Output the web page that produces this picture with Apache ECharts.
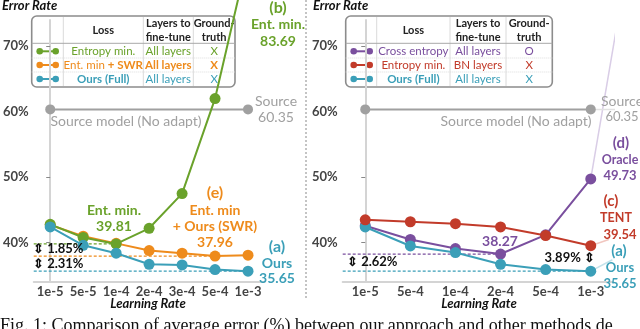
<!DOCTYPE html>
<html>
<head>
<meta charset="utf-8">
<script src="https://cdn.jsdelivr.net/npm/echarts@6/dist/echarts.min.js"></script>
<style>
  html, body { margin: 0; padding: 0; background: #fff; }
  #chart { width: 640px; height: 329px; }
</style>
</head>
<body>
<div id="chart"></div>
<script>
// learning rates (x categories)
const leftLr = ['1e-5', '5e-5', '1e-4', '2e-4', '3e-4', '5e-4', '1e-3'];
const rightLr = ['1e-5', '5e-4', '1e-4', '2e-4', '5e-4', '1e-3'];
// error rates (%)
const entMinLeft = [42.8, 40.8, 39.81, 42.2, 47.5, 62.0, 83.69];
const entMinSwr = [42.7, 41.0, 39.9, 38.8, 38.4, 37.96, 38.1];
const oursLeft = [42.4, 39.6, 38.4, 36.7, 36.6, 35.9, 35.65];
const oracle = [42.6, 40.5, 39.1, 38.27, 41.2, 49.73];
const tent = [43.5, 43.2, 42.9, 42.4, 41.1, 39.54];
const oursRight = [42.4, 39.5, 38.5, 36.7, 35.9, 35.65];
const sourceErr = 60.35;
const yTicks = [40, 50, 60, 70];
// faint leader lines on the right panel (x in category index units)
const purpleLead = [[5, 49.73], [5.7, 78]];
const redLead = [[5, 39.54], [5.4, 40.5]];
const blueLead = [[5, 35.65], [5.48, 37.4]];
const grayLead = [[5, sourceErr], [5.95, sourceErr]];

const GREEN = '#6aa22b', ORANGE = '#ee8b1c', BLUE = '#3b9fb8';
const PURPLE = '#7a4f9e', RED = '#c23b2a', GRAY = '#a0a0a0';
const FONT = 'Lato';

const chart = echarts.init(document.getElementById('chart'));

function yAxisOf(grid) {
  return {
    type: 'value', gridIndex: grid, min: 34, max: 74,
    axisLine: { show: true, lineStyle: { color: '#d4d4d4', width: 2 } },
    axisTick: { show: true, customValues: yTicks, length: 4, lineStyle: { color: '#888' } },
    axisLabel: { customValues: yTicks, formatter: '{value}%', color: '#444', fontSize: 13, fontWeight: 'bold', margin: 5, fontFamily: FONT },
    splitLine: { show: false }
  };
}
function catAxis(grid, data) {
  return {
    type: 'category', gridIndex: grid, data: data, boundaryGap: true,
    axisLine: { lineStyle: { color: '#d4d4d4', width: 2 } },
    axisTick: { alignWithLabel: true, length: 4, lineStyle: { color: '#999' } },
    axisLabel: { color: '#444', fontSize: 13, fontWeight: 'bold', margin: 3, fontFamily: FONT, interval: 0 }
  };
}
function idxAxis(grid, n) {
  return { type: 'value', gridIndex: grid, min: -0.5, max: n - 0.5, show: false };
}
function line(data, color, xi, yi, z) {
  return {
    type: 'line', data: data, xAxisIndex: xi, yAxisIndex: yi, z: z,
    symbol: 'circle', symbolSize: 11, clip: false, silent: true,
    lineStyle: { color: color, width: 2 }, itemStyle: { color: color }
  };
}
function plain(data, color, xi, yi, style) {
  return {
    type: 'line', data: data, xAxisIndex: xi, yAxisIndex: yi, z: 1,
    symbol: 'none', clip: false, silent: true,
    lineStyle: Object.assign({ color: color, width: 1.2 }, style || {})
  };
}
function dash(v, toIdx, color, xi, yi) {
  return plain([[-0.5, v], [toIdx, v]], color, xi, yi, { type: [3, 2], width: 1.2 });
}

function txt(x, y, text, color, size, weight, align) {
  return {
    type: 'text', x: x, y: y, z: 50, silent: true,
    style: {
      text: text, fill: color, align: align || 'center', verticalAlign: 'middle',
      font: (weight || 'bold') + ' ' + size + 'px ' + FONT
    }
  };
}

// legend table drawn as graphic
function table(cols, rows) {
  const x0 = cols[0], x1 = cols[4];
  const els = [];
  els.push({ type: 'rect', shape: { x: x0, y: 16, width: x1 - x0, height: 71, r: 5 },
    style: { fill: '#fff', stroke: '#8c8c8c', lineWidth: 1.6 } });
  [cols[1], cols[2], cols[3]].forEach(function (c) {
    els.push({ type: 'line', shape: { x1: c, y1: 17, x2: c, y2: 86 }, style: { stroke: '#dadada', lineWidth: 1 } });
  });
  els.push({ type: 'line', shape: { x1: x0, y1: 43.3, x2: x1, y2: 43.3 }, style: { stroke: '#a8a8a8', lineWidth: 1 } });
  [58, 72].forEach(function (y) {
    els.push({ type: 'line', shape: { x1: x0, y1: y, x2: x1, y2: y }, style: { stroke: '#dcdcdc', lineWidth: 1, lineDash: [1, 1] } });
  });
  const mid = function (i) { return (cols[i] + cols[i + 1]) / 2; };
  els.push(txt(mid(1), 30.5, 'Loss', '#222', 11, 'bold'));
  els.push({ type: 'text', x: mid(2), y: 30.5, style: { text: 'Layers to\nfine-tune', fill: '#222', align: 'center', verticalAlign: 'middle', lineHeight: 13.5, font: 'bold 11px ' + FONT } });
  els.push({ type: 'text', x: mid(3), y: 30.5, style: { text: 'Ground-\ntruth', fill: '#222', align: 'center', verticalAlign: 'middle', lineHeight: 13.5, font: 'bold 11px ' + FONT } });
  const rowY = [51.3, 65, 79];
  rows.forEach(function (r, k) {
    const y = rowY[k];
    els.push({ type: 'line', shape: { x1: cols[0] + 8, y1: y, x2: cols[0] + 24, y2: y }, style: { stroke: r.color, lineWidth: 2 } });
    els.push({ type: 'circle', shape: { cx: cols[0] + 8, cy: y, r: 3.3 }, style: { fill: r.color } });
    els.push({ type: 'circle', shape: { cx: cols[0] + 24, cy: y, r: 3.3 }, style: { fill: r.color } });
    els.push({ type: 'text', x: mid(1), y: y, style: { text: r.loss, fill: r.color, align: 'center', verticalAlign: 'middle', font: (r.w1 || 'normal') + ' 11.5px ' + FONT, rich: r.rich } });
    els.push(txt(mid(2), y, r.layers, r.color, 11.5, r.w2 || 'normal'));
    els.push(txt(mid(3), y, r.gt, r.color, 11.5, r.w3 || 'normal'));
  });
  return { type: 'group', z: 100, silent: true, children: els };
}

const f2 = function (v) { return v.toFixed(2); };

const graphics = [
  // titles
  txt(2, 6, 'Error Rate', '#111', 13, 'italic bold', 'left'),
  txt(313, 6, 'Error Rate', '#111', 13, 'italic bold', 'left'),
  txt(148, 304, 'Learning Rate', '#111', 13, 'italic bold'),
  txt(479, 304, 'Learning Rate', '#111', 13, 'italic bold'),
  // separator
  { type: 'line', shape: { x1: 306, y1: 0, x2: 306, y2: 300 }, style: { stroke: '#8a8a8a', lineWidth: 1, lineDash: [2, 2] } },
  // caption (cut off at the bottom)
  { type: 'text', x: 0, y: 317, style: { text: 'Fig. 1: Comparison of average error (%) between our approach and other methods de', fill: '#111', align: 'left', verticalAlign: 'top', font: '18px "Liberation Serif"' } },
  table([31.7, 63.3, 143.3, 193.3, 235], [
    { color: GREEN, loss: 'Entropy min.', layers: 'All layers', gt: 'X' },
    { color: ORANGE, loss: '{a|Ent. min }{b|+ SWR}', layers: 'All layers', gt: 'X', w2: 'bold', w3: 'bold',
      rich: { a: { fill: ORANGE, font: 'normal 11.5px ' + FONT }, b: { fill: ORANGE, font: 'bold 11.5px ' + FONT } } },
    { color: BLUE, loss: 'Ours (Full)', layers: 'All layers', gt: 'X', w1: 'bold' }
  ]),
  table([345.7, 376.7, 450, 506, 552.3], [
    { color: PURPLE, loss: 'Cross entropy', layers: 'All layers', gt: 'O' },
    { color: RED, loss: 'Entropy min.', layers: 'BN layers', gt: 'X' },
    { color: BLUE, loss: 'Ours (Full)', layers: 'All layers', gt: 'X', w1: 'bold' }
  ]),
  // left panel annotations
  txt(278, 8, '(b)', GREEN, 16),
  txt(278, 24, 'Ent. min.', GREEN, 14),
  txt(278, 41, f2(entMinLeft[6]), GREEN, 14),
  txt(276, 101, 'Source', GRAY, 14, 'normal'),
  txt(276, 117, f2(sourceErr), GRAY, 14, 'normal'),
  txt(126, 121, 'Source model (No adapt)', GRAY, 14, 'normal'),
  txt(114, 210, 'Ent. min.', GREEN, 14),
  txt(114, 226, f2(entMinLeft[2]), GREEN, 14),
  txt(215, 193, '(e)', ORANGE, 16),
  txt(215, 210, 'Ent. min', ORANGE, 14),
  txt(215, 226, '+ Ours (SWR)', ORANGE, 14),
  txt(215, 242, f2(entMinSwr[5]), ORANGE, 14),
  txt(277, 247, '(a)', BLUE, 16),
  txt(277, 263, 'Ours', BLUE, 14),
  txt(277, 278, f2(oursLeft[6]), BLUE, 14),
  txt(33, 249, '\u21D5 ' + f2(entMinLeft[2] - entMinSwr[5]) + '%', '#111', 13, 'bold', 'left'),
  txt(33, 264, '\u21D5 ' + f2(entMinSwr[5] - oursLeft[6]) + '%', '#111', 13, 'bold', 'left'),
  // right panel annotations
  txt(622, 101, 'Source', GRAY, 14, 'normal'),
  txt(622, 117, f2(sourceErr), GRAY, 13, 'normal'),
  txt(516, 121, 'Source model (No adapt)', GRAY, 14, 'normal'),
  txt(621, 143, '(d)', PURPLE, 15),
  txt(620, 160, 'Oracle', PURPLE, 12.5),
  txt(620, 176, f2(oracle[5]), PURPLE, 13),
  txt(611, 201, '(c)', RED, 15),
  txt(616, 218, 'TENT', RED, 12.5),
  txt(620, 235, f2(tent[5]), RED, 13),
  txt(619, 251, '(a)', BLUE, 15),
  txt(620, 268, 'Ours', BLUE, 13),
  txt(620, 284, f2(oursRight[5]), BLUE, 13),
  txt(500, 241, f2(oracle[3]), PURPLE, 14),
  txt(347, 262, '\u21D5 ' + f2(oracle[3] - oursRight[5]) + '%', '#111', 13, 'bold', 'left'),
  txt(595, 258, f2(tent[5] - oursRight[5]) + '% \u21D5', '#111', 13, 'bold', 'right')
];

chart.setOption({
  animation: false,
  textStyle: { fontFamily: FONT },
  grid: [
    { left: 30, top: 20, width: 234.5, height: 262 },
    { left: 342.7, top: 20, width: 270.6, height: 262 }
  ],
  xAxis: [catAxis(0, leftLr), idxAxis(0, leftLr.length), catAxis(1, rightLr), idxAxis(1, rightLr.length)],
  yAxis: [yAxisOf(0), yAxisOf(1)],
  series: [
    // left
    dash(entMinLeft[2], 2, GREEN, 1, 0),
    dash(entMinSwr[5], 5, ORANGE, 1, 0),
    dash(oursLeft[6], 6, BLUE, 1, 0),
    Object.assign(line([[0, sourceErr], [6, sourceErr]], GRAY, 1, 0, 3), { symbolSize: 10 }),
    line(entMinSwr, ORANGE, 0, 0, 4),
    line(entMinLeft, GREEN, 0, 0, 5),
    line(oursLeft, BLUE, 0, 0, 6),
    // right
    dash(oracle[3], 3, PURPLE, 3, 1),
    dash(oursRight[5], 5, BLUE, 3, 1),
    plain(purpleLead, '#d9cde6', 3, 1, { width: 1.5 }),
    plain(redLead, '#f1c6bf', 3, 1, { width: 1.5 }),
    plain(blueLead, '#c3e2ea', 3, 1, { width: 1.5 }),
    plain(grayLead, '#e2e2e2', 3, 1, { width: 1.5 }),
    Object.assign(line([[0, sourceErr], [5, sourceErr]], GRAY, 3, 1, 3), { symbolSize: 10 }),
    line(oracle, PURPLE, 2, 1, 4),
    line(oursRight, BLUE, 2, 1, 5),
    line(tent, RED, 2, 1, 6)
  ],
  graphic: graphics
});
</script>
</body>
</html>
